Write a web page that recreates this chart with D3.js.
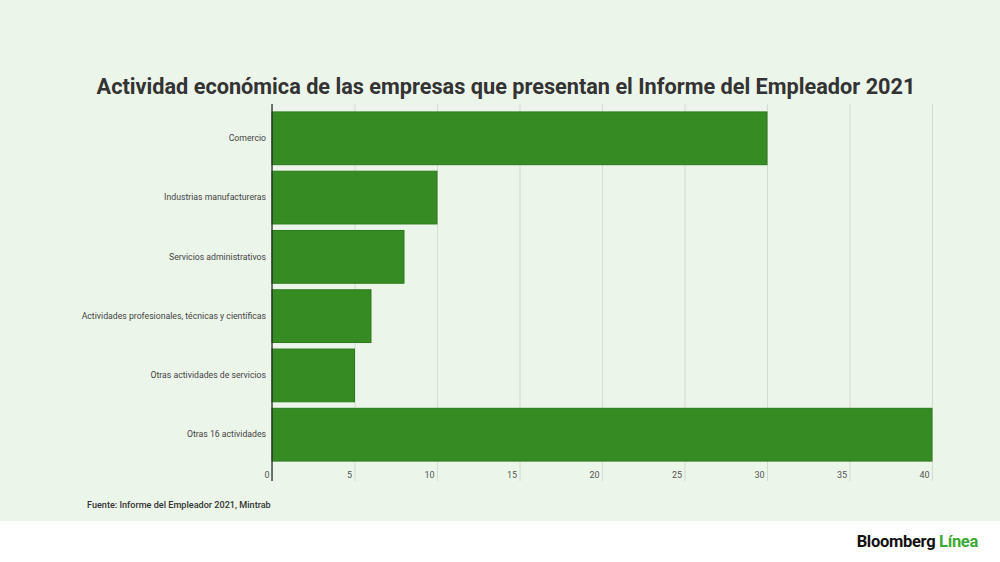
<!DOCTYPE html>
<html>
<head>
<meta charset="utf-8">
<script src="https://cdn.jsdelivr.net/npm/d3@7"></script>
<style>
  body { margin: 0; background: #fff; }
  svg { display: block; font-family: Roboto, sans-serif; }
</style>
</head>
<body>
<div class="container"></div>
<script>
var categories = [
  'Comercio',
  'Industrias manufactureras',
  'Servicios administrativos',
  'Actividades profesionales, técnicas y científicas',
  'Otras actividades de servicios',
  'Otras 16 actividades'
];
var values = [30, 10, 8, 6, 5, 40];
var ticks = [0, 5, 10, 15, 20, 25, 30, 35, 40];

var title = 'Actividad económica de las empresas que presentan el Informe del Empleador 2021';
var source = 'Fuente: Informe del Empleador 2021, Mintrab';

buildChart();

function buildChart() {

  /* ===== SET UP CHART =====*/

  var w = 1000;
  var h = 562;
  var left = 272, right = 932, top = 106, bottom = 467;

  var svg = d3.select('.container')
    .append('svg')
    .attr('width', w)
    .attr('height', h);

  // light green panel, white strip for the logo
  svg.append('rect')
    .attr('width', w)
    .attr('height', 521)
    .attr('fill', '#ecf5ea');

  var xScale = d3.scaleLinear()
    .domain([0, 40])
    .range([left, right]);

  var yScale = d3.scaleBand()
    .domain(categories)
    .range([top, bottom])
    .paddingInner(0.11)
    .paddingOuter(0.1);

  /* ===== TITLE =====*/

  svg.append('text')
    .attr('x', 506)
    .attr('y', 94)
    .attr('text-anchor', 'middle')
    .attr('font-size', '21.7px')
    .attr('font-weight', 'bold')
    .attr('fill', '#333')
    .text(title);

  /* ===== GRID + TICKS =====*/

  var xAxis = d3.axisBottom(xScale)
    .tickValues(ticks)
    .tickSize(-(481 - 104))
    .tickFormat(d3.format('d'));

  var gx = svg.append('g')
    .attr('transform', 'translate(0,481)')
    .call(xAxis);

  gx.select('.domain').remove();
  gx.selectAll('.tick line')
    .attr('stroke', '#d4dbd2');
  gx.selectAll('.tick text')
    .attr('text-anchor', 'end')
    .attr('x', -3)
    .attr('y', -9)
    .attr('fill', '#555')
    .attr('font-size', '9px')
    .attr('font-family', 'Roboto, sans-serif');

  /* ===== BARS =====*/

  svg.selectAll('.bar')
    .data(values)
    .enter()
    .append('rect')
    .attr('class', 'bar')
    .attr('x', xScale(0))
    .attr('y', function(d, i) { return yScale(categories[i]); })
    .attr('width', function(d) { return xScale(d) - xScale(0); })
    .attr('height', yScale.bandwidth())
    .attr('fill', '#368c23')
    .attr('stroke', '#2a7a1a')
    .attr('stroke-width', 1);

  /* ===== CATEGORY LABELS =====*/

  var yAxis = d3.axisLeft(yScale).tickSize(0).tickPadding(6);
  var gy = svg.append('g')
    .attr('transform', 'translate(' + left + ',0)')
    .call(yAxis);

  gy.select('.domain').remove();
  gy.selectAll('.tick text')
    .attr('fill', '#444')
    .attr('font-size', '8.7px')
    .attr('font-family', 'Roboto, sans-serif');

  // zero line
  svg.append('line')
    .attr('x1', xScale(0)).attr('x2', xScale(0))
    .attr('y1', 104).attr('y2', 481)
    .attr('stroke', '#222')
    .attr('stroke-width', 1.2);

  /* ===== FOOTER =====*/

  svg.append('text')
    .attr('x', 87)
    .attr('y', 508)
    .attr('font-size', '9.1px')
    .attr('font-weight', 500)
    .attr('fill', '#333')
    .text(source);

  var logo = svg.append('text')
    .attr('x', 978)
    .attr('y', 547)
    .attr('text-anchor', 'end')
    .attr('font-size', '16.5px')
    .attr('font-weight', 'bold')
    .attr('letter-spacing', '-0.3px');
  logo.append('tspan').attr('fill', '#111').text('Bloomberg ');
  logo.append('tspan').attr('fill', '#3aa935').text('Línea');
}
</script>
</body>
</html>
